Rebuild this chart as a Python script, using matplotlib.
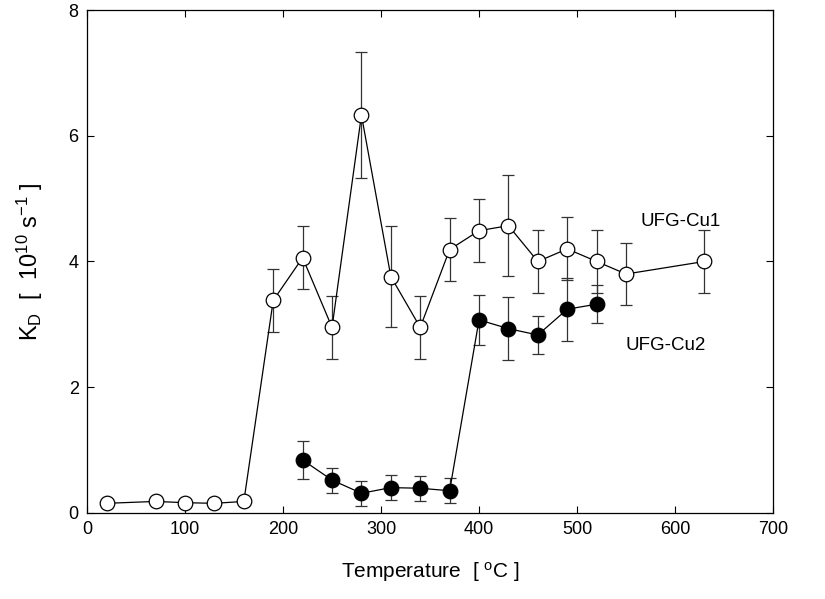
import matplotlib
matplotlib.use("Agg")
import matplotlib.pyplot as plt

plt.rcParams['font.family'] = ['Liberation Sans', 'DejaVu Sans']
plt.rcParams['mathtext.fontset'] = 'custom'
plt.rcParams['mathtext.rm'] = 'Liberation Sans'
plt.rcParams['mathtext.it'] = 'Liberation Sans'

# UFG-Cu1 (open circles)
t_cu1 = [20, 70, 100, 130, 160, 190, 220, 250, 280, 310, 340, 370, 400, 430, 460, 490, 520, 550, 630]
k_cu1 = [0.15, 0.18, 0.16, 0.15, 0.18, 3.38, 4.06, 2.95, 6.33, 3.76, 2.95, 4.19, 4.49, 4.57, 4.00, 4.20, 4.00, 3.80, 4.00]
e_cu1 = [0, 0, 0, 0, 0, 0.5, 0.5, 0.5, 1.0, 0.8, 0.5, 0.5, 0.5, 0.8, 0.5, 0.5, 0.5, 0.5, 0.5]

# UFG-Cu2 (filled circles)
t_cu2 = [220, 250, 280, 310, 340, 370, 400, 430, 460, 490, 520]
k_cu2 = [0.84, 0.52, 0.31, 0.40, 0.39, 0.35, 3.07, 2.93, 2.83, 3.24, 3.32]
e_cu2 = [0.3, 0.2, 0.2, 0.2, 0.2, 0.2, 0.4, 0.5, 0.3, 0.5, 0.3]

fig = plt.figure(figsize=(8.25, 5.99), dpi=100)
ax = fig.add_axes([0.1055, 0.144, 0.8315, 0.839])

# error bars (drawn only where the uncertainty is non-zero)
for t, k, e in [(t_cu1, k_cu1, e_cu1), (t_cu2, k_cu2, e_cu2)]:
    tt = [a for a, c in zip(t, e) if c > 0]
    kk = [b for b, c in zip(k, e) if c > 0]
    ee = [c for c in e if c > 0]
    ax.errorbar(tt, kk, yerr=ee, fmt='none', ecolor='#333333', elinewidth=0.9,
                capsize=4.5, capthick=0.9, zorder=2)

ax.plot(t_cu1, k_cu1, '-o', color='black', lw=0.9, ms=10.5,
        markerfacecolor='white', markeredgecolor='black', markeredgewidth=0.9, zorder=3)
ax.plot(t_cu2, k_cu2, '-o', color='black', lw=0.9, ms=10.5,
        markerfacecolor='black', markeredgecolor='black', markeredgewidth=0.9, zorder=3)

ax.text(606, 4.64, 'UFG-Cu1', fontsize=13.5, ha='center', va='center')
ax.text(590, 2.67, 'UFG-Cu2', fontsize=13.5, ha='center', va='center')

ax.set_xlim(0, 700)
ax.set_ylim(0, 8)
ax.set_xticks(range(0, 701, 100))
ax.set_yticks([0, 2, 4, 6, 8])
ax.tick_params(direction='in', top=True, right=True, length=5, width=0.8,
               labelsize=13, pad=6)
for s in ax.spines.values():
    s.set_linewidth(0.9)

ax.set_xlabel(r'Temperature  [ $^\mathrm{o}$C ]', fontsize=15, labelpad=16)
ax.set_ylabel(r'K$_\mathrm{D}$  [  10$^{10}$ s$^{-1}$ ]', fontsize=17, labelpad=17)

fig.savefig('out.png', dpi=100)
